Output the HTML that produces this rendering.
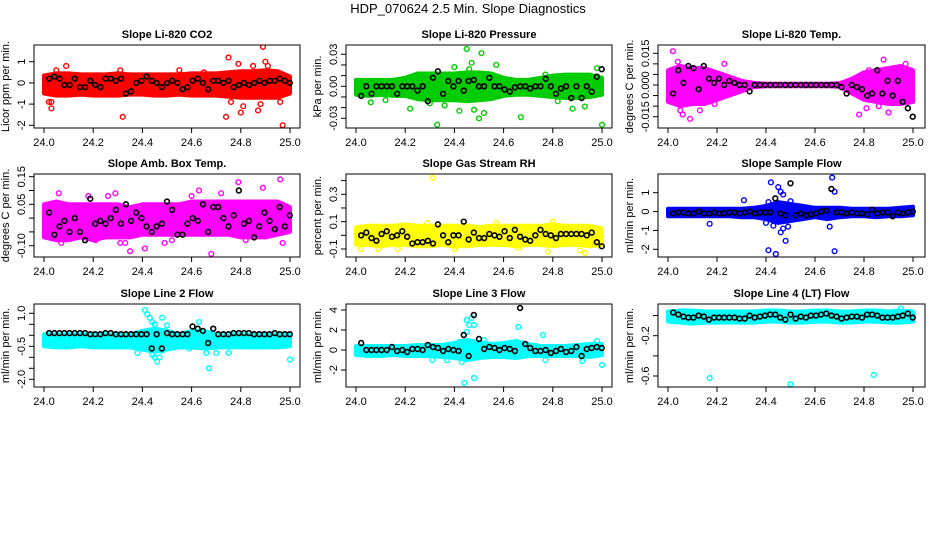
<!DOCTYPE html>
<html><head><meta charset="utf-8"><style>
html,body{margin:0;padding:0;background:#fff;}
svg{display:block;font-family:"Liberation Sans",Arial,sans-serif;}
</style></head><body>
<svg id="chart" width="936" height="540" viewBox="0 0 936 540" xmlns="http://www.w3.org/2000/svg">
<rect x="0" y="0" width="936" height="540" fill="#fff"/>
<text x="468" y="13" text-anchor="middle" font-size="13">HDP_070624  2.5 Min. Slope Diagnostics</text>
</svg>
<script>
// ---- shared x data ----
const bandX = [24.00,24.05,24.10,24.15,24.20,24.25,24.30,24.35,24.40,24.45,24.50,24.55,24.60,24.65,24.70,24.75,24.80,24.85,24.90,24.95,25.00];
const blackX = [24.021,24.042,24.063,24.083,24.104,24.125,24.146,24.167,24.188,24.208,24.229,24.250,24.271,24.292,24.313,24.333,24.354,24.375,24.396,24.417,24.438,24.458,24.479,24.500,24.521,24.542,24.563,24.583,24.604,24.625,24.646,24.667,24.688,24.708,24.729,24.750,24.771,24.792,24.813,24.833,24.854,24.875,24.896,24.917,24.938,24.958,24.979,24.999];
const xTicks = [24.0,24.2,24.4,24.6,24.8,25.0];
const xTickLabels = ["24.0","24.2","24.4","24.6","24.8","25.0"];

// ---- P1 CO2 ----
const co2Lo = [-0.5,-0.6,-0.6,-0.55,-0.6,-0.6,-0.6,-0.55,-0.55,-0.6,-0.6,-0.55,-0.6,-0.6,-0.6,-0.65,-0.7,-0.7,-0.7,-0.7,-0.5];
const co2Hi = [0.35,0.45,0.45,0.4,0.4,0.4,0.45,0.4,0.4,0.4,0.4,0.4,0.45,0.45,0.45,0.5,0.55,0.55,0.6,0.55,0.3];
const co2OutX = [24.03,24.03,24.05,24.09,24.31,24.32,24.75,24.76,24.74,24.79,24.80,24.81,24.87,24.88,24.89,24.90,24.91,24.96,24.97,24.02,24.55,24.65,24.85];
const co2OutY = [-1.2,-0.9,0.6,0.8,0.6,-1.6,1.2,-0.9,-1.6,0.9,-1.4,-1.1,-1.3,-1.0,1.7,1.0,0.8,-0.9,-2.0,-0.9,0.6,0.5,0.8];
const co2Blk = [0.2,0.3,0.2,-0.1,-0.1,0.2,-0.2,-0.2,0.1,-0.1,-0.2,0.2,0.2,0.1,0.2,-0.5,-0.4,0,0.1,0.3,0.1,0,-0.2,0,0.1,0,-0.3,-0.2,0.1,0.2,0,-0.3,0.1,0.1,0,0.1,-0.2,-0.1,0,-0.1,0,0.1,0,0.1,0.1,0.2,0.1,0];

// ---- P2 Pressure ----
const presLo = [-0.008,-0.009,-0.008,-0.009,-0.009,-0.012,-0.013,-0.013,-0.013,-0.014,-0.013,-0.012,-0.009,-0.008,-0.008,-0.009,-0.010,-0.011,-0.011,-0.010,-0.008];
const presHi = [0.006,0.006,0.006,0.006,0.008,0.012,0.012,0.012,0.012,0.013,0.013,0.012,0.008,0.006,0.006,0.008,0.010,0.011,0.011,0.011,0.008];
const presOutX = [24.33,24.45,24.47,24.48,24.50,24.51,24.52,24.46,24.42,24.22,24.67,24.88,25.00,24.98,24.57,24.40,24.36,24.30,24.12,24.06,24.82,24.77,24.93];
const presOutY = [-0.036,0.035,0.022,-0.022,-0.030,0.031,-0.025,0.016,-0.023,-0.021,-0.029,-0.021,-0.036,0.017,0.020,0.018,-0.018,-0.016,-0.013,-0.015,-0.014,0.011,-0.019];
const presBlk = [-0.009,0.000,-0.007,0.000,0.000,0.000,0.000,-0.007,0.000,0.000,0.000,-0.004,0.000,-0.014,0.008,0.014,-0.007,0.005,0.000,0.005,-0.004,0.005,0.006,0.000,0.000,0.008,0.000,0.000,-0.003,-0.005,-0.001,0.000,0.000,-0.002,0.000,0.000,0.007,0.000,-0.007,-0.002,0.000,-0.011,0.000,-0.011,0.000,-0.005,0.009,0.016];

// ---- P3 Temp ----
const tmpLo = [-0.008,-0.010,-0.009,-0.009,-0.007,-0.005,-0.003,-0.001,-0.0006,-0.0006,-0.0006,-0.0006,-0.0006,-0.0006,-0.0008,-0.004,-0.007,-0.008,-0.009,-0.009,-0.008];
const tmpHi = [0.007,0.009,0.008,0.008,0.006,0.004,0.002,0.001,0.0006,0.0006,0.0006,0.0006,0.0006,0.0006,0.0008,0.003,0.006,0.007,0.008,0.009,0.007];
const tmpOutX = [24.02,24.03,24.04,24.05,24.06,24.09,24.13,24.17,24.19,24.23,24.78,24.81,24.88,24.97,24.99,24.90,24.92,24.82,24.86,24.05,24.11];
const tmpOutY = [0.016,-0.007,0.011,-0.012,-0.014,-0.016,-0.012,-0.006,-0.009,0.010,-0.014,-0.011,0.012,0.010,0.003,-0.013,0.008,0.007,-0.010,0.007,-0.008];
const tmpBlk = [-0.004,0.007,0.001,0.009,0.008,-0.002,0.009,0.003,0.001,0.003,0.000,0.002,0.001,0.000,0.000,-0.003,0.000,0.000,0.000,0.000,0.000,0.000,0.000,0.000,0.000,0.000,0.000,0.000,0.000,0.000,0.000,0.000,0.000,-0.001,-0.004,0.000,-0.001,-0.002,-0.005,-0.004,0.007,-0.004,0.002,-0.005,0.002,-0.008,-0.011,-0.015];

// ---- P4 Amb Box Temp ----
const ambLo = [-0.07,-0.08,-0.08,-0.07,-0.08,-0.07,-0.07,-0.07,-0.06,-0.06,-0.06,-0.06,-0.06,-0.06,-0.06,-0.06,-0.07,-0.07,-0.07,-0.06,-0.05];
const ambHi = [0.05,0.06,0.05,0.05,0.05,0.05,0.05,0.04,0.05,0.05,0.05,0.05,0.06,0.06,0.06,0.06,0.06,0.06,0.06,0.06,0.04];
const ambOutX = [24.06,24.07,24.18,24.29,24.31,24.33,24.35,24.41,24.49,24.52,24.63,24.68,24.79,24.82,24.89,24.96,24.97,24.72,24.60,24.26,24.21];
const ambOutY = [0.09,-0.09,0.08,0.09,-0.09,-0.09,-0.12,-0.11,-0.09,-0.08,0.10,-0.13,0.13,-0.08,0.11,0.14,-0.09,0.09,0.08,0.08,-0.08];
const ambBlk = [0.02,-0.06,-0.03,-0.01,-0.05,0.00,-0.05,-0.08,0.07,-0.02,-0.01,-0.02,0.00,0.03,-0.02,0.05,-0.01,0.02,0.00,-0.03,-0.05,-0.03,-0.02,0.06,0.03,-0.06,-0.06,-0.02,0.00,-0.01,0.05,-0.05,0.04,0.04,0.00,-0.03,0.01,0.10,-0.02,-0.01,-0.07,-0.03,0.02,-0.01,-0.04,0.04,-0.03,0.01];

// ---- P5 Gas Stream RH ----
const rhLo = [-0.07,-0.07,-0.08,-0.07,-0.07,-0.08,-0.08,-0.07,-0.08,-0.08,-0.07,-0.07,-0.07,-0.08,-0.07,-0.07,-0.08,-0.07,-0.07,-0.08,-0.07];
const rhHi = [0.06,0.07,0.07,0.07,0.08,0.07,0.07,0.07,0.07,0.07,0.06,0.07,0.07,0.07,0.07,0.07,0.08,0.07,0.07,0.07,0.05];
const rhOutX = [24.31,24.93,24.91,24.78,24.66,24.09,24.17,24.40,24.80,24.29,24.02,24.57];
const rhOutY = [0.42,-0.13,-0.11,-0.12,-0.09,-0.10,-0.10,-0.10,0.10,0.09,-0.10,0.09];
const rhBlk = [0.00,0.02,-0.02,-0.04,0.01,0.03,-0.01,0.00,0.03,-0.01,-0.06,-0.05,-0.05,-0.04,-0.06,0.08,0.00,-0.05,0.00,0.00,0.10,-0.03,0.02,-0.02,-0.02,0.01,0.00,-0.01,0.03,-0.02,0.04,-0.01,-0.03,-0.04,0.00,0.04,0.01,0.00,-0.02,0.01,0.01,0.01,0.01,0.01,0.00,0.02,-0.05,-0.08];

// ---- P6 Sample Flow ----
const sfLo = [-0.25,-0.25,-0.25,-0.25,-0.25,-0.25,-0.3,-0.3,-0.4,-0.6,-0.5,-0.4,-0.3,-0.4,-0.3,-0.25,-0.25,-0.3,-0.25,-0.25,-0.2];
const sfHi = [0.15,0.15,0.15,0.15,0.15,0.15,0.15,0.2,0.3,0.5,0.4,0.3,0.2,0.2,0.2,0.15,0.15,0.15,0.15,0.2,0.25];
const sfOutX = [24.17,24.31,24.42,24.44,24.45,24.46,24.47,24.48,24.41,24.40,24.43,24.49,24.46,24.67,24.68,24.68,24.66,24.41,24.44,24.47,24.50];
const sfOutY = [-0.65,0.6,1.55,-2.25,1.3,1.05,0.9,-1.55,-2.05,-0.6,-0.75,-0.8,-1.1,1.8,1.05,-2.1,-0.8,0.5,-0.4,-0.9,0.55];
const sfBlk = [-0.1,-0.05,-0.05,-0.1,-0.1,0.0,-0.1,-0.1,-0.05,-0.1,-0.1,-0.05,-0.05,-0.1,-0.05,0.0,-0.1,-0.05,-0.05,-0.05,0.7,-0.1,-0.2,1.5,-0.2,-0.1,-0.2,-0.15,-0.1,0.0,0.05,1.2,-0.05,-0.05,-0.1,-0.05,-0.1,-0.1,-0.15,0.1,-0.1,-0.05,-0.05,-0.25,-0.05,-0.1,-0.05,0.0];

// ---- P7 Line 2 Flow ----
const l2Lo = [-0.5,-0.55,-0.55,-0.5,-0.55,-0.55,-0.55,-0.55,-0.65,-0.75,-0.65,-0.55,-0.55,-0.6,-0.55,-0.55,-0.55,-0.55,-0.55,-0.55,-0.5];
const l2Hi = [0.05,0.05,0.05,0.05,0.05,0.05,0.05,0.05,0.2,0.3,0.2,0.05,0.2,0.2,0.05,0.05,0.05,0.05,0.05,0.05,0.05];
const l2OutX = [24.41,24.42,24.43,24.44,24.45,24.46,24.48,24.45,24.47,24.38,24.50,24.63,24.66,24.67,24.70,24.75,25.00,24.40,24.44,24.48,24.59];
const l2OutY = [1.15,0.95,0.8,0.6,0.5,-1.2,0.8,-1.0,-1.0,-0.8,0.45,0.6,-0.8,-1.5,-0.8,-0.8,-1.1,-0.6,-0.9,-0.7,-0.6];
const l2Blk = [0.1,0.1,0.1,0.1,0.1,0.1,0.1,0.1,0.05,0.05,0.05,0.1,0.1,0.05,0.05,0.05,0.05,0.05,0.05,0.05,-0.6,0.05,-0.6,0.1,0.05,0.05,0.05,0.05,0.4,0.3,0.2,-0.35,0.3,0.05,0.05,0.05,0.1,0.1,0.1,0.1,0.05,0.05,0.05,0.05,0.1,0.05,0.05,0.05];

// ---- P8 Line 3 Flow ----
const l3Lo = [-0.5,-0.6,-0.6,-0.5,-0.6,-0.6,-0.6,-0.7,-0.8,-1.0,-0.8,-0.7,-0.7,-0.8,-0.6,-0.6,-0.6,-0.6,-0.6,-0.7,-0.5];
const l3Hi = [0.4,0.4,0.4,0.4,0.4,0.5,0.5,0.5,0.7,1.0,0.8,0.6,0.7,0.9,0.6,0.4,0.4,0.4,0.5,0.6,0.6];
const l3OutX = [24.44,24.45,24.46,24.47,24.48,24.45,24.48,24.31,24.66,24.76,24.77,24.42,24.43,25.00,24.92,24.98,24.52,24.37];
const l3OutY = [-3.3,3.0,2.5,3.2,-2.8,1.8,2.5,-1.0,2.3,1.5,-1.0,0.8,-1.2,-1.5,-1.1,0.9,1.0,-1.0];
const l3Blk = [0.7,0.0,0.0,0.0,0.0,0.0,0.3,-0.1,0.0,-0.2,0.1,0.1,0.0,0.5,0.3,0.2,-0.1,0.1,0.0,-0.1,1.5,-0.6,3.5,1.1,0.1,0.3,0.2,0.0,0.2,0.1,-0.1,4.2,0.6,0.2,-0.1,-0.1,0.0,-0.3,-0.1,0.1,-0.2,-0.1,0.3,-0.6,0.1,0.2,0.3,0.2];

// ---- P9 Line 4 Flow ----
const l4Lo = [-0.06,-0.07,-0.08,-0.07,-0.07,-0.07,-0.07,-0.07,-0.06,-0.06,-0.07,-0.07,-0.06,-0.06,-0.07,-0.07,-0.06,-0.06,-0.07,-0.07,-0.06];
const l4Hi = [0.04,0.05,0.05,0.04,0.04,0.04,0.04,0.04,0.05,0.05,0.04,0.04,0.05,0.05,0.04,0.04,0.05,0.05,0.04,0.05,0.04];
const l4OutX = [24.17,24.50,24.84,24.95];
const l4OutY = [-0.62,-0.68,-0.59,0.07];
const l4Blk = [0.03,0.01,-0.01,-0.02,-0.02,0.00,-0.01,-0.04,-0.02,-0.02,-0.02,-0.02,-0.02,-0.03,-0.03,0.00,-0.02,-0.01,0.00,0.01,0.01,-0.02,-0.04,0.01,-0.03,-0.01,-0.02,0.00,0.00,0.01,0.02,0.00,-0.01,-0.03,-0.02,-0.01,-0.01,-0.02,0.01,0.01,0.00,-0.02,-0.02,-0.02,-0.01,0.00,0.02,-0.02];

// ---- panel specs (layout only; data referenced above) ----
const panels = [
 {name:"co2",title:"Slope Li-820 CO2",ylab:"Licor ppm per min.",col:0,row:0,color:"#ff0000",c:[1,61.7,-2,125.3],ticks:[-2,-1,0,1],labels:["-2","-1","0","1"],lo:co2Lo,hi:co2Hi,ox:co2OutX,oy:co2OutY,bk:co2Blk},
 {name:"pressure",title:"Slope Li-820 Pressure",ylab:"kPa per min.",col:1,row:0,color:"#00cc00",c:[0.03,54.3,-0.03,118.3],ticks:[-0.03,-0.02,-0.01,0,0.01,0.02,0.03],labels:["-0.03","","","0.00","","","0.03"],lo:presLo,hi:presHi,ox:presOutX,oy:presOutY,bk:presBlk},
 {name:"li820-temp",title:"Slope Li-820 Temp.",ylab:"degrees C per min.",col:2,row:0,color:"#ff00ff",c:[0.015,53.3,-0.015,116.7],ticks:[-0.015,-0.01,-0.005,0,0.005,0.01,0.015],labels:["-0.015","","","0.000","","","0.015"],lo:tmpLo,hi:tmpHi,ox:tmpOutX,oy:tmpOutY,bk:tmpBlk},
 {name:"amb-box-temp",title:"Slope Amb. Box Temp.",ylab:"degrees C per min.",col:0,row:1,color:"#ff00ff",c:[0.15,176.7,-0.10,245.7],ticks:[-0.10,-0.05,0,0.05,0.10,0.15],labels:["-0.10","","","0.05","","0.15"],lo:ambLo,hi:ambHi,ox:ambOutX,oy:ambOutY,bk:ambBlk},
 {name:"gas-stream-rh",title:"Slope Gas Stream RH",ylab:"percent per min.",col:1,row:1,color:"#ffff00",c:[0.3,194.3,-0.1,249],ticks:[-0.1,0,0.1,0.2,0.3,0.4],labels:["-0.1","","0.1","","0.3",""],lo:rhLo,hi:rhHi,ox:rhOutX,oy:rhOutY,bk:rhBlk},
 {name:"sample-flow",title:"Slope Sample Flow",ylab:"ml/min per min.",col:2,row:1,color:"#0000ff",c:[1,192.7,-2,249.3],ticks:[-2,-1,0,1],labels:["-2","-1","0","1"],lo:sfLo,hi:sfHi,ox:sfOutX,oy:sfOutY,bk:sfBlk},
 {name:"line2-flow",title:"Slope Line 2 Flow",ylab:"ml/min per min.",col:0,row:2,color:"#00ffff",c:[1,313.3,-2,379.3],ticks:[-2,-1.5,-1,-0.5,0,0.5,1],labels:["-2.0","","","-0.5","","","1.0"],lo:l2Lo,hi:l2Hi,ox:l2OutX,oy:l2OutY,bk:l2Blk},
 {name:"line3-flow",title:"Slope Line 3 Flow",ylab:"ml/min per min.",col:1,row:2,color:"#00ffff",c:[4,310,-2,370],ticks:[-2,0,2,4],labels:["-2","0","2","4"],lo:l3Lo,hi:l3Hi,ox:l3OutX,oy:l3OutY,bk:l3Blk},
 {name:"line4-flow",title:"Slope Line 4 (LT) Flow",ylab:"ml/min per min.",col:2,row:2,color:"#00ffff",c:[-0.2,335.7,-0.6,376],ticks:[-0.6,-0.4,-0.2,0],labels:["-0.6","","-0.2",""],lo:l4Lo,hi:l4Hi,ox:l4OutX,oy:l4OutY,bk:l4Blk}
];
const colX24=[44,356,668], colX25=[290,602,913], boxL=[34,346,658], boxR=[300,612,925];
const rowTop=[45,174,304], rowBot=[128,257,387];

const NS="http://www.w3.org/2000/svg";
const svg=document.getElementById('chart');
function mk(tag,attrs,parent){const e=document.createElementNS(NS,tag);for(const k in attrs)e.setAttribute(k,attrs[k]);(parent||svg).appendChild(e);return e;}

panels.forEach(p=>{
  const g=mk('g',{});
  
  
  const L=boxL[p.col],R=boxR[p.col],T=rowTop[p.row],B=rowBot[p.row];
  const xs=v=>colX24[p.col]+(v-24)*(colX25[p.col]-colX24[p.col]);
  const ys=v=>p.c[1]+(v-p.c[0])*(p.c[3]-p.c[1])/(p.c[2]-p.c[0]);
  const clipId='clip-'+p.name;
  const cp=mk('clipPath',{id:clipId},g);mk('rect',{x:L,y:T,width:R-L,height:B-T},cp);
  const plot=mk('g',{'clip-path':'url(#'+clipId+')'},g);
  let d='';
  bandX.forEach((x,i)=>{d+=(i?'L':'M')+xs(x).toFixed(1)+','+ys(p.hi[i]).toFixed(1);});
  for(let i=bandX.length-1;i>=0;i--)d+='L'+xs(bandX[i]).toFixed(1)+','+ys(p.lo[i]).toFixed(1);
  const band=mk('path',{d:d+'Z',fill:p.color,stroke:p.color,'stroke-width':4,'stroke-linejoin':'round'},plot);
  
  
  p.ox.forEach((x,i)=>{
    const c=mk('circle',{cx:xs(x),cy:ys(p.oy[i]),r:2.4,fill:'none',stroke:p.color,'stroke-width':1.4},plot);
    
    
  });
  blackX.forEach((x,i)=>{
    const c=mk('circle',{cx:xs(x),cy:ys(p.bk[i]),r:2.4,fill:'none',stroke:'#000','stroke-width':1.6},plot);
    
    
  });
  const box=mk('rect',{x:L,y:T,width:R-L,height:B-T,fill:'none',stroke:'#000','stroke-width':1},g);
  
  
  xTicks.forEach((v,i)=>{
    mk('line',{x1:xs(v),x2:xs(v),y1:B,y2:B+5,stroke:'#000'},g);
    const t=mk('text',{x:xs(v),y:B+18,'text-anchor':'middle','font-size':11},g);
    t.textContent=xTickLabels[i];
    
    
  });
  p.ticks.forEach((v,i)=>{
    const y=ys(v);
    mk('line',{x1:L-5,x2:L,y1:y,y2:y,stroke:'#000'},g);
    if(p.labels[i]){
      const t=mk('text',{x:L-9,y:y,'text-anchor':'middle','font-size':11,transform:'rotate(-90 '+(L-9)+' '+y+')'},g);
      t.textContent=p.labels[i];
      
      
    }
  });
  const ym=(T+B)/2;
  const yl=mk('text',{x:L-25,y:ym,'text-anchor':'middle','font-size':11,transform:'rotate(-90 '+(L-25)+' '+ym+')'},g);
  yl.textContent=p.ylab;
  
  
  const tt=mk('text',{x:(L+R)/2,y:T-7,'text-anchor':'middle','font-size':11,'font-weight':'bold'},g);
  tt.textContent=p.title;
  
  
});
</script>
</body></html>
